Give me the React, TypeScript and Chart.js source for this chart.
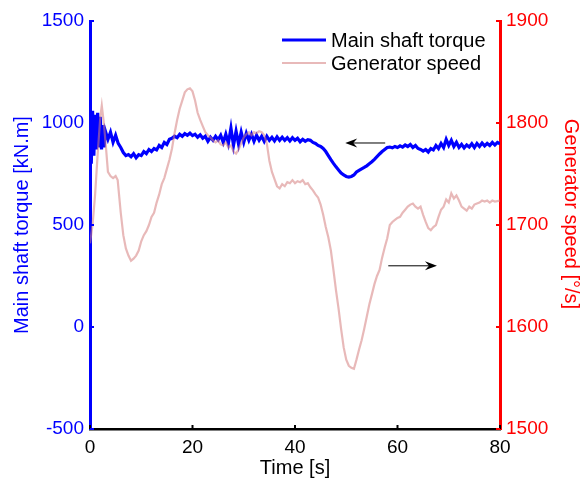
import React, { useEffect, useRef } from "react";
import { Chart, registerables } from "chart.js";

Chart.register(...registerables);

// ---------- data ----------
const torqueTime = [
  0, 0.25, 0.5, 0.75, 1, 1.25, 1.5, 1.75, 2, 2.25, 2.5, 2.75, 3, 3.5, 4, 4.5, 5, 5.5, 6, 6.5,
  7, 7.5, 8, 8.5, 9, 9.5, 10, 10.5, 11, 11.5, 12, 12.5, 13, 13.5, 14, 14.5, 15, 15.5, 16, 16.5,
  17, 17.5, 18, 18.5, 19, 19.5, 20, 20.5, 21, 21.5, 22, 22.5, 23, 23.5, 24, 24.5, 25, 25.5, 26, 26.5,
  27, 27.5, 28, 28.5, 29, 29.5, 30, 30.5, 31, 31.5, 32, 32.5, 33, 33.5, 34, 34.5, 35, 35.5, 36, 36.5,
  37, 37.5, 38, 38.5, 39, 39.5, 40, 40.5, 41, 41.5, 42, 42.5, 43, 43.5, 44, 44.5, 45, 45.5, 46, 46.5,
  47, 47.5, 48, 48.5, 49, 49.5, 50, 50.5, 51, 51.5, 52, 52.5, 53, 53.5, 54, 54.5, 55, 55.5, 56, 56.5,
  57, 57.5, 58, 58.5, 59, 59.5, 60, 60.5, 61, 61.5, 62, 62.5, 63, 63.5, 64, 64.5, 65, 65.5, 66, 66.5,
  67, 67.5, 68, 68.5, 69, 69.5, 70, 70.5, 71, 71.5, 72, 72.5, 73, 73.5, 74, 74.5, 75, 75.5, 76, 76.5,
  77, 77.5, 78, 78.5, 79, 79.5, 80,
];
const torqueValues = [
  1130, 800, 1060, 840, 1040, 870, 1050, 880, 1030, 870, 990, 880, 960, 920, 955, 905, 940, 900, 880, 855,
  840, 845, 835, 850, 830, 845, 840, 860, 850, 870, 860, 875, 868, 890, 880, 905, 895, 920, 925, 935,
  928, 945, 935, 948, 940, 950, 938, 945, 930, 942, 925, 935, 910, 930, 915, 935, 918, 940, 905, 945,
  900, 975, 890, 960, 895, 955, 905, 950, 915, 945, 910, 940, 915, 935, 910, 935, 915, 930, 912, 932,
  915, 930, 915, 928, 912, 928, 915, 925, 908, 920, 910, 918, 915, 905, 900, 890, 885, 875, 860, 840,
  820, 802, 785, 770, 755, 745, 738, 735, 738, 745, 760, 768, 775, 782, 790, 800, 810, 822, 835, 848,
  860, 870, 880, 882, 878, 885, 880, 888, 882, 892, 885, 895, 880, 890, 875, 870, 862, 870, 858, 875,
  868, 890, 875, 900, 880, 920, 890, 915, 885, 905, 880, 895, 878, 892, 882, 898, 880, 900, 885, 902,
  888, 900, 890, 905, 892, 905, 898,
];

const speedTime = [
  0, 0.5, 1, 1.5, 2, 2.3, 2.7, 3.1, 3.5, 4, 4.5, 5, 5.4, 6, 6.5, 7, 7.5, 8, 8.5, 9,
  9.5, 10, 10.5, 11, 11.5, 12, 12.5, 13, 13.5, 14, 14.5, 15, 15.5, 16, 16.5, 17, 17.5, 18, 18.5, 19,
  19.5, 20, 20.5, 21, 21.5, 22, 22.5, 23, 23.5, 24, 24.5, 25, 25.5, 26, 26.5, 27, 27.5, 28, 28.5, 29,
  29.5, 30, 30.5, 31, 31.5, 32, 32.5, 33, 33.5, 34, 34.5, 35, 35.5, 36, 36.5, 37, 37.5, 38, 38.5, 39,
  39.5, 40, 40.5, 41, 41.5, 42, 42.5, 43, 43.5, 44, 44.5, 45, 45.5, 46, 46.5, 47, 47.5, 48, 48.5, 49,
  49.5, 50, 50.5, 51, 51.5, 52, 52.5, 53, 53.5, 54, 54.5, 55, 55.5, 56, 56.5, 57, 57.5, 58, 58.5, 59,
  59.5, 60, 60.5, 61, 61.5, 62, 62.5, 63, 63.5, 64, 64.5, 65, 65.5, 66, 66.5, 67, 67.5, 68, 68.5, 69,
  69.5, 70, 70.5, 71, 71.5, 72, 72.5, 73, 73.5, 74, 74.5, 75, 75.5, 76, 76.5, 77, 77.5, 78, 78.5, 79, 80,
];
const speedValues = [
  1682, 1700, 1730, 1770, 1805, 1817, 1800, 1777, 1752, 1748, 1746, 1748, 1744, 1712, 1690, 1677, 1670, 1665, 1667, 1670,
  1675, 1684, 1690, 1694, 1700, 1708, 1712, 1722, 1730, 1740, 1746, 1755, 1764, 1775, 1790, 1803, 1814, 1822, 1830, 1833,
  1834, 1831, 1822, 1810, 1803, 1797, 1791, 1788, 1786, 1783, 1781, 1783, 1779, 1778, 1781, 1776, 1778, 1772, 1770, 1774,
  1780, 1786, 1789, 1791, 1788, 1791, 1790, 1792, 1791, 1788, 1780, 1763, 1752, 1745, 1738, 1736, 1740, 1738, 1742, 1741,
  1744, 1741, 1743, 1742, 1744, 1740, 1741, 1737, 1734, 1730, 1727, 1720, 1710, 1698, 1688, 1675, 1656, 1636, 1618, 1598,
  1580, 1568, 1562, 1560, 1559, 1568, 1578, 1587, 1598, 1610, 1622, 1632, 1642, 1650, 1656, 1668, 1678, 1687, 1700, 1703,
  1705, 1707, 1708, 1712, 1715, 1718, 1720, 1721, 1718, 1716, 1718, 1710, 1703, 1697, 1695, 1698, 1700, 1708, 1715, 1718,
  1725, 1722, 1731, 1726, 1729, 1724, 1718, 1716, 1714, 1718, 1716, 1720, 1721, 1722, 1724, 1723, 1724, 1722, 1724, 1723, 1724,
];

const xTicks = [0, 20, 40, 60, 80];
const torqueTicks = [-500, 0, 500, 1000, 1500];
const speedTicks = [1500, 1600, 1700, 1800, 1900];
const seriesNames = ["Main shaft torque", "Generator speed"];
const axisTitles = ["Time [s]", "Main shaft torque [kN.m]", "Generator speed [°/s]"];
// arrows in data units: [fromTime, toTime, value]
const torqueArrow = [57.6, 49.8, 902];
const speedArrow = [58.2, 67.7, 1660];

const BLUE = "#0000ff";
const RED = "#ff0000";
const PINK = "rgba(214,128,128,0.55)";
const FONT = "'Liberation Sans', Arial, Helvetica, sans-serif";

function drawArrow(ctx: CanvasRenderingContext2D, x1: number, x2: number, y: number) {
  const d = Math.sign(x2 - x1);
  ctx.save();
  ctx.strokeStyle = "#000";
  ctx.fillStyle = "#000";
  ctx.lineWidth = 1;
  ctx.beginPath();
  ctx.moveTo(x1, y);
  ctx.lineTo(x2 - d * 6, y);
  ctx.stroke();
  ctx.beginPath();
  ctx.moveTo(x2, y);
  ctx.lineTo(x2 - d * 12, y - 4.5);
  ctx.lineTo(x2 - d * 8, y);
  ctx.lineTo(x2 - d * 12, y + 4.5);
  ctx.closePath();
  ctx.fill();
  ctx.restore();
}

const overlayPlugin = {
  id: "overlay",
  afterDatasetsDraw(chart: any) {
    const ctx: CanvasRenderingContext2D = chart.ctx;
    const { x, y, y2 } = chart.scales;
    const area = chart.chartArea;
    ctx.save();
    // inward ticks
    ctx.lineWidth = 2;
    ctx.strokeStyle = "#000";
    xTicks.forEach((t) => {
      const px = x.getPixelForValue(t);
      ctx.beginPath();
      ctx.moveTo(px, area.bottom);
      ctx.lineTo(px, area.bottom - 4);
      ctx.stroke();
    });
    ctx.strokeStyle = BLUE;
    torqueTicks.forEach((v) => {
      const py = y.getPixelForValue(v);
      ctx.beginPath();
      ctx.moveTo(area.left, py);
      ctx.lineTo(area.left + 4, py);
      ctx.stroke();
    });
    ctx.strokeStyle = RED;
    speedTicks.forEach((v) => {
      const py = y2.getPixelForValue(v);
      ctx.beginPath();
      ctx.moveTo(area.right, py);
      ctx.lineTo(area.right - 4, py);
      ctx.stroke();
    });
    // arrows
    drawArrow(ctx, x.getPixelForValue(torqueArrow[0]), x.getPixelForValue(torqueArrow[1]), y.getPixelForValue(torqueArrow[2]));
    drawArrow(ctx, x.getPixelForValue(speedArrow[0]), x.getPixelForValue(speedArrow[1]), y2.getPixelForValue(speedArrow[2]));
    // legend
    const lx0 = 282, lx1 = 326, tx = 331;
    const rows = [40, 63];
    ctx.lineWidth = 3;
    ctx.strokeStyle = BLUE;
    ctx.beginPath();
    ctx.moveTo(lx0, rows[0]);
    ctx.lineTo(lx1, rows[0]);
    ctx.stroke();
    ctx.lineWidth = 2.2;
    ctx.strokeStyle = PINK;
    ctx.beginPath();
    ctx.moveTo(lx0, rows[1]);
    ctx.lineTo(lx1, rows[1]);
    ctx.stroke();
    ctx.fillStyle = "#000";
    ctx.font = `20px ${FONT}`;
    ctx.textAlign = "left";
    ctx.textBaseline = "middle";
    ctx.fillText(seriesNames[0], tx, rows[0] + 1);
    ctx.fillText(seriesNames[1], tx, rows[1] + 1);
    // right axis title (rotated clockwise)
    ctx.save();
    ctx.translate(571, 214);
    ctx.rotate(Math.PI / 2);
    ctx.fillStyle = RED;
    ctx.textAlign = "center";
    ctx.textBaseline = "middle";
    ctx.fillText(axisTitles[2], 0, 0);
    ctx.restore();
    ctx.restore();
  },
};

export default function App() {
  const ref = useRef<HTMLCanvasElement>(null);
  useEffect(() => {
    if (!ref.current) return;
    Chart.defaults.font.family = FONT;
    Chart.defaults.font.size = 19;
    const chart = new Chart(ref.current, {
      type: "line",
      data: {
        datasets: [
          {
            label: seriesNames[0],
            data: torqueTime.map((t, i) => ({ x: t, y: torqueValues[i] })),
            borderColor: BLUE,
            borderWidth: 3.2,
            pointRadius: 0,
            yAxisID: "y",
            order: 2,
            tension: 0,
          },
          {
            label: seriesNames[1],
            data: speedTime.map((t, i) => ({ x: t, y: speedValues[i] })),
            borderColor: PINK,
            borderWidth: 2.2,
            pointRadius: 0,
            yAxisID: "y2",
            order: 1,
            tension: 0,
          },
        ],
      },
      options: {
        responsive: false,
        animation: false,
        events: [],
        layout: { padding: { top: 21, left: 0, right: 0, bottom: 0 } },
        plugins: { legend: { display: false }, tooltip: { enabled: false } },
        scales: {
          x: {
            type: "linear",
            min: 0,
            max: 80,
            afterBuildTicks: (s: any) => { s.ticks = xTicks.map((v) => ({ value: v })); },
            afterFit: (s: any) => { s.height = 54; },
            grid: { display: false, drawTicks: false },
            border: { display: true, color: "#000", width: 2.5 },
            ticks: { color: "#000", padding: 7, callback: (v: any) => String(v), maxRotation: 0, autoSkip: false },
            title: { display: true, text: axisTitles[0], color: "#000", font: { size: 20 }, padding: { top: 0, bottom: 3 } },
          },
          y: {
            type: "linear",
            position: "left",
            min: -500,
            max: 1500,
            afterBuildTicks: (s: any) => { s.ticks = torqueTicks.map((v) => ({ value: v })); },
            afterFit: (s: any) => { s.width = 90; },
            grid: { display: false, drawTicks: false },
            border: { display: true, color: BLUE, width: 3 },
            ticks: { color: BLUE, padding: 6, callback: (v: any) => String(v), autoSkip: false },
            title: { display: true, text: axisTitles[1], color: BLUE, font: { size: 20 }, padding: { top: 10, bottom: 0 } },
          },
          y2: {
            type: "linear",
            position: "right",
            min: 1500,
            max: 1900,
            afterBuildTicks: (s: any) => { s.ticks = speedTicks.map((v) => ({ value: v })); },
            afterFit: (s: any) => { s.width = 84; },
            grid: { display: false, drawTicks: false },
            border: { display: true, color: RED, width: 3 },
            ticks: { color: RED, padding: 6, callback: (v: any) => String(v), autoSkip: false },
            title: { display: false, text: axisTitles[2] },
          },
        },
      },
      plugins: [overlayPlugin],
    } as any);
    return () => chart.destroy();
  }, []);
  return (
    <div style={{ position: "absolute", left: 0, top: 0, width: 584, height: 483, background: "#fff" }}>
      <canvas ref={ref} width={584} height={483} style={{ width: 584, height: 483, display: "block" }} />
    </div>
  );
}
